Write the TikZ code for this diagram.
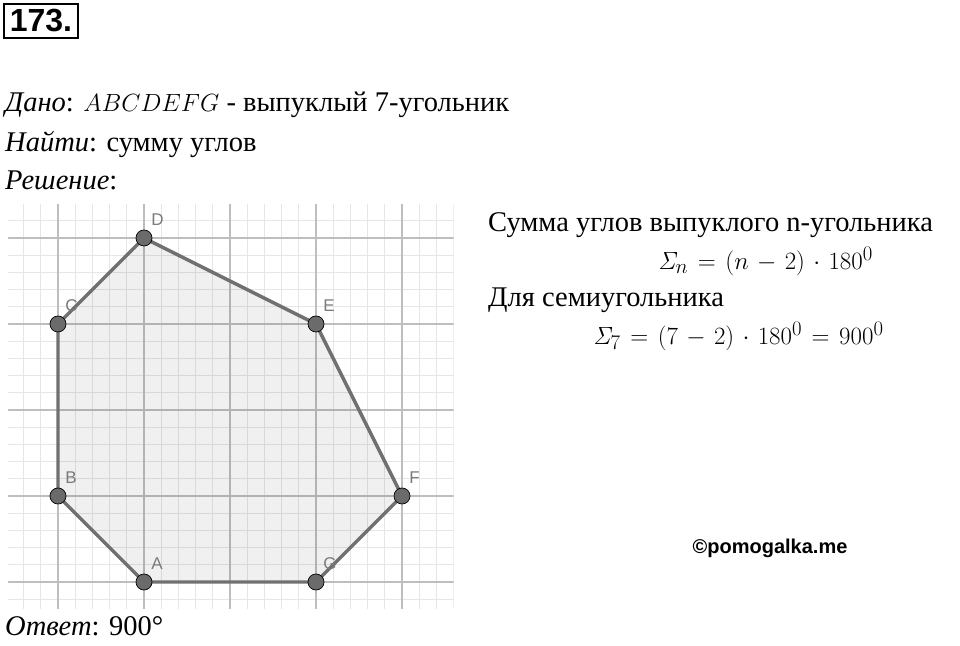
\documentclass[tikz,border=0pt]{standalone}
\usepackage[no-math]{fontspec}
\setmainfont{Liberation Serif}
\setsansfont{Liberation Sans}
\usetikzlibrary{backgrounds}
\definecolor{ptgray}{HTML}{6B6B6B}
\definecolor{edgegray}{HTML}{707070}
\definecolor{lblgray}{HTML}{7A7A7A}
\definecolor{minorgray}{HTML}{E6E6E6}
\definecolor{majorgray}{HTML}{BEBEBE}
\newcommand{\wideeq}[1]{$\medmuskip=6mu\thickmuskip=7mu #1$}

\begin{document}
\begin{tikzpicture}[x=1pt,y=1pt,
    pt/.style = {draw=black, fill=ptgray, circle, inner sep=0pt, minimum size=16pt, line width=0.7pt},
    lbl/.style = {text=lblgray, font=\sffamily\fontsize{17}{17}\selectfont, inner sep=0pt},
    edge/.style = {draw=edgegray, line width=3.4pt},
    txt/.style = {anchor=base west, inner sep=0pt, font=\fontsize{28.5}{32}\selectfont},
    eq/.style = {txt, font=\fontsize{32}{34}\selectfont}]
\useasboundingbox (0,0) rectangle (960,645);
\node[draw, line width=2pt, minimum width=74pt, minimum height=34pt, inner sep=0pt,
      font=\sffamily\bfseries\fontsize{32}{32}\selectfont] (num) at (41,624) {173.};
\node[txt] (given) at (5,533) {\textit{Дано}: $ABCDEFG$ - выпуклый 7-угольник};
\node[txt] (find) at (5,493) {\textit{Найти}: сумму углов};
\node[txt] (sol) at (5,455) {\textit{Решение}:};
\node[txt] (sum) at (488,413) {Сумма углов выпуклого n-угольника};
\node[eq] (formn) at (658,375) {\wideeq{\mathit{\Sigma}_n=(n-2)\cdot 180^0}};
\node[txt] (hept) at (488,338) {Для семиугольника};
\node[eq] (form7) at (593,300) {\wideeq{\mathit{\Sigma}_7=(7-2)\cdot 180^0=900^0}};
\node[font=\sffamily\bfseries\fontsize{20}{20}\selectfont] (site) at (770,97) {©pomogalka.me};
\node[txt] (ans) at (5,10) {\textit{Ответ}: 900°};
\begin{scope}[xshift=58pt, yshift=63pt, x=86pt, y=86pt]
    \node[pt,label={[lbl,label distance=6pt]60:A}] (A) at (1,0) {};
    \node[pt,label={[lbl,label distance=6pt]60:B}] (B) at (0,1) {};
    \node[pt,label={[lbl,label distance=6pt]60:C}] (C) at (0,3) {};
    \node[pt,label={[lbl,label distance=6pt]60:D}] (D) at (1,4) {};
    \node[pt,label={[lbl,label distance=6pt]60:E}] (E) at (3,3) {};
    \node[pt,label={[lbl,label distance=6pt]60:F}] (F) at (4,1) {};
    \node[pt,label={[lbl,label distance=6pt]60:G}] (G) at (3,0) {};
    \begin{pgfonlayer}{background}
        \begin{scope}
            \clip (-0.58,-0.31) rectangle (4.6,4.39);
            \draw[minorgray, line width=1pt] (-1,-1) grid[step=0.2] (5,5);
            \draw[majorgray, line width=1.5pt] (-1,-1) grid[step=1] (5,5);
        \end{scope}
        \fill[black, fill opacity=0.06] (A.center) -- (B.center) -- (C.center) -- (D.center)
            -- (E.center) -- (F.center) -- (G.center) -- cycle;
        \draw[edge] (A.center) -- (B.center) -- (C.center) -- (D.center)
            -- (E.center) -- (F.center) -- (G.center) -- cycle;
    \end{pgfonlayer}
\end{scope}
\end{tikzpicture}
\end{document}
